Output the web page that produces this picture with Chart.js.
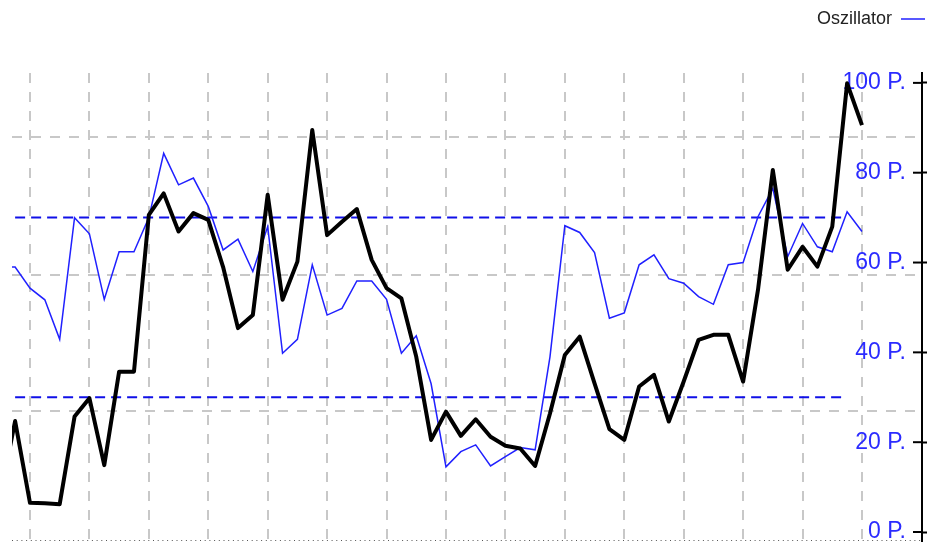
<!DOCTYPE html>
<html>
<head>
<meta charset="utf-8">
<script src="https://cdn.jsdelivr.net/npm/chart.js@4.4.1/dist/chart.umd.min.js"></script>
<style>
  html, body { margin: 0; padding: 0; background: #fff; }
  #wrap { width: 927px; height: 542px; }
</style>
</head>
<body>
<div id="wrap"><canvas id="osc"></canvas></div>
<script>
// Kurs (thick black line), one value per bar
var kurs = [8, 24.7, 6.5, 6.4, 6.2, 25.7, 29.8, 14.9, 35.7, 35.7,
            70.6, 75.4, 66.9, 71.0, 69.5, 59.0, 45.4, 48.3, 75.1, 51.7,
            60.2, 89.5, 66.1, 69.1, 71.9, 60.6, 54.3, 52.0, 39.0, 20.5,
            26.8, 21.4, 25.1, 21.2, 19.2, 18.6, 14.7, 26.4, 39.4, 43.5,
            33.1, 22.9, 20.5, 32.4, 35.0, 24.6, 33.5, 42.8, 43.9, 43.9,
            33.5, 53.9, 80.6, 58.4, 63.5, 59.1, 68.0, 99.9, 90.6];

// Oszillator (thin blue line)
var oszillator = [59, 59, 54.3, 51.7, 42.9, 70.0, 66.4, 51.8, 62.4, 62.4,
                  70.0, 84.3, 77.3, 78.8, 72.5, 62.8, 65.2, 58.0, 68.0, 39.8,
                  42.9, 59.5, 48.3, 49.8, 55.9, 55.9, 51.8, 39.8, 43.7, 33.0,
                  14.5, 17.9, 19.4, 14.7, 16.8, 18.8, 18.3, 39.0, 68.2, 66.7,
                  62.2, 47.6, 48.8, 59.5, 61.7, 56.4, 55.4, 52.4, 50.7, 59.5,
                  60.0, 70.2, 76.5, 61.3, 68.7, 63.5, 62.4, 71.3, 66.9];

var bars = kurs.map(function (v, i) { return i; });

// overbought / oversold levels
var levelX = [1, 57];
var upperLevel = [70, 70];
var lowerLevel = [30, 30];

// axis ticks and grid
var yTicks = [0, 20, 40, 60, 80, 100];
var yGrid = [27, 57.3, 88];
var xGrid = [2, 6, 10, 14, 18, 22, 26, 30, 34, 38, 42, 46, 50, 54, 58];

function levelPoints(vals) {
  return levelX.map(function (x, i) { return { x: x, y: vals[i] }; });
}

var gridGray = '#c8c8c8';

// small tick stubs inside the right axis and the dotted base line
var axisMarks = {
  id: 'axisMarks',
  afterDraw: function (chart) {
    var ctx = chart.ctx, area = chart.chartArea, y = chart.scales.y;
    ctx.save();
    ctx.strokeStyle = '#000';
    ctx.lineWidth = 2;
    y.ticks.forEach(function (t) {
      var py = y.getPixelForValue(t.value);
      ctx.beginPath();
      ctx.moveTo(area.right - 9, py);
      ctx.lineTo(area.right, py);
      ctx.stroke();
    });
    ctx.lineWidth = 1;
    ctx.strokeStyle = '#555';
    ctx.setLineDash([1, 3.7]);
    ctx.beginPath();
    ctx.moveTo(area.left, area.bottom - 0.5);
    ctx.lineTo(area.right, area.bottom - 0.5);
    ctx.stroke();
    ctx.restore();
  }
};

new Chart(document.getElementById('osc'), {
  type: 'line',
  data: {
    labels: bars,
    datasets: [
      {
        label: 'Kurs',
        data: kurs,
        borderColor: '#000',
        borderWidth: 4,
        borderJoinStyle: 'round',
        pointRadius: 0,
        tension: 0
      },
      {
        label: 'Oszillator',
        data: oszillator,
        borderColor: '#2020ff',
        borderWidth: 1.5,
        pointRadius: 0,
        tension: 0
      },
      {
        label: 'Obere Linie',
        data: levelPoints(upperLevel),
        borderColor: '#1010e8',
        borderWidth: 2,
        borderDash: [10, 6],
        pointRadius: 0
      },
      {
        label: 'Untere Linie',
        data: levelPoints(lowerLevel),
        borderColor: '#1010e8',
        borderWidth: 2,
        borderDash: [10, 6],
        pointRadius: 0
      }
    ]
  },
  options: {
    responsive: true,
    maintainAspectRatio: false,
    animation: false,
    layout: { padding: { top: 8, left: 12, right: 0, bottom: 1 } },
    plugins: {
      tooltip: { enabled: false },
      legend: {
        display: true,
        position: 'top',
        align: 'start',
        rtl: true,
        labels: {
          filter: function (item) { return item.text === 'Oszillator'; },
          usePointStyle: true,
          pointStyle: 'line',
          pointStyleWidth: 24,
          padding: 2,
          color: '#222',
          font: { family: 'Liberation Sans', size: 18 }
        }
      },
      title: {
        display: true,
        text: '',
        weight: 500,
        font: { size: 1, lineHeight: 1 },
        padding: { top: 0, bottom: 34 }
      }
    },
    scales: {
      x: {
        type: 'linear',
        min: 0.79,
        max: 62.04,
        afterBuildTicks: function (axis) {
          axis.ticks = xGrid.map(function (v) { return { value: v }; });
        },
        ticks: { display: false },
        grid: { color: gridGray, lineWidth: 2, drawTicks: false },
        border: { display: false, dash: [10, 9] }
      },
      y: {
        position: 'right',
        min: -2,
        max: 102.2,
        afterBuildTicks: function (axis) {
          axis.ticks = yTicks.map(function (v) { return { value: v }; });
        },
        afterFit: function (axis) { axis.width = 5; },
        ticks: {
          mirror: true,
          padding: -16,
          color: '#2b2bff',
          font: { family: 'Liberation Sans', size: 23 },
          callback: function (v) { return v + ' P.'; }
        },
        grid: { drawOnChartArea: false, drawTicks: true, tickLength: 5, tickColor: '#000', tickWidth: 2 },
        border: { color: '#000', width: 2 }
      },
      yGrid: {
        position: 'left',
        min: -2,
        max: 102.2,
        afterBuildTicks: function (axis) {
          axis.ticks = yGrid.map(function (v) { return { value: v }; });
        },
        ticks: { display: false },
        grid: { color: gridGray, lineWidth: 2, drawTicks: false },
        border: { display: false, dash: [10, 9] }
      }
    }
  },
  plugins: [axisMarks]
});
</script>
</body>
</html>
